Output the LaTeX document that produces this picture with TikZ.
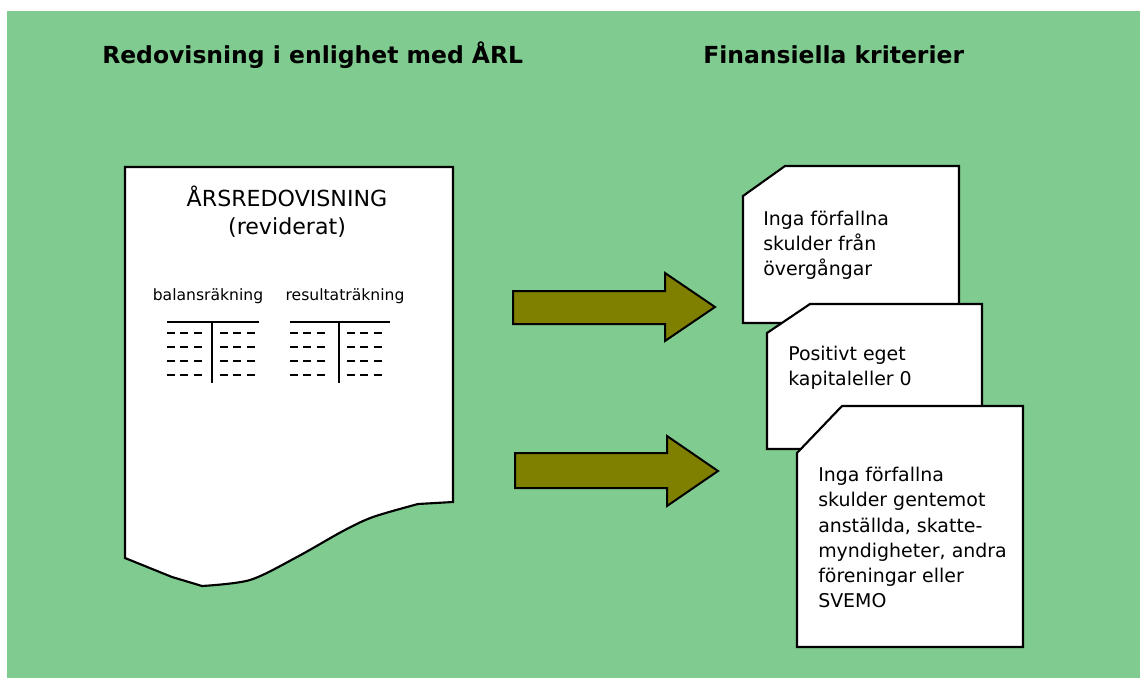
\documentclass[tikz,border=0pt]{standalone}
\usepackage{fontspec}
\setmainfont{DejaVu Sans}
\definecolor{bggreen}{RGB}{128,204,144}
\definecolor{arrowolive}{RGB}{128,128,0}
\tikzset{
	card/.style={draw, fill=white, line width=1.6pt},
	blockarrow/.style={draw, fill=arrowolive, line width=1.5pt},
	cardtext/.style={anchor=base west, align=left, inner sep=0pt, font=\fontsize{14.2}{18.9}\selectfont},
	heading/.style={anchor=base west, inner sep=0pt, font=\bfseries\fontsize{17.6}{21}\selectfont},
	ledger/.style={line width=1.5pt},
	ledgerdash/.style={dash pattern=on 6pt off 4.1pt, line width=1.5pt},
}

\begin{document}
\begin{tikzpicture}[x=0.75pt, y=-0.75pt]
	\useasboundingbox (0,0) rectangle (1140,678);
	\fill[bggreen] (7,11) rectangle (1140,678);

	%HEADINGS
	\node[heading] (arl) at (102,63) {Redovisning i enlighet med ÅRL};
	\node[heading] (krit) at (703,63) {Finansiella kriterier};

	%ANNUAL REPORT
	\draw[card] (125,167) -- (453,167) -- (453,502)
		-- plot[smooth] coordinates {(418,504) (373,517) (343,531) (297,557) (250,580) (202,586)}
		-- (172,577) -- (125,558) -- cycle;
	\node[anchor=base, align=center, inner sep=0pt, font=\fontsize{16.6}{20.7}\selectfont] (arsred) at (287,234.3) {ÅRSREDOVISNING\\(reviderat)};
	\node[anchor=base, inner sep=0pt, font=\fontsize{11.7}{14}\selectfont] (bal) at (208,300) {balansräkning};
	\node[anchor=base, inner sep=0pt, font=\fontsize{11.7}{14}\selectfont] (res) at (345,300) {resultaträkning};

	\draw[ledger] (167,322) -- (259,322);
	\draw[ledger] (212,322) -- (212,383);
	\draw[ledger] (290,322) -- (390,322);
	\draw[ledger] (339,322) -- (339,383);
	\foreach \y in {333,347,361,375} {
		\draw[ledgerdash] (167,\y) -- (202,\y);
		\draw[ledgerdash] (220,\y) -- (255,\y);
		\draw[ledgerdash] (290,\y) -- (325,\y);
		\draw[ledgerdash] (347,\y) -- (382,\y);
	}

	%ARROWS
	\draw[blockarrow] (513,291) -- (665,291) -- (665,273) -- (715,307) -- (665,341) -- (665,324) -- (513,324) -- cycle;
	\draw[blockarrow] (515,453) -- (667,453) -- (667,436) -- (718,471) -- (667,506) -- (667,488) -- (515,488) -- cycle;

	%CRITERIA
	\draw[card] (785,166) -- (959,166) -- (959,323) -- (743,323) -- (743,196) -- cycle;
	\node[cardtext] (krit1) at (763,275.4) {Inga förfallna\\skulder från\\övergångar};

	\draw[card] (810,304) -- (982,304) -- (982,449) -- (767,449) -- (767,333) -- cycle;
	\node[cardtext] (krit2) at (788,385.2) {Positivt eget\\kapitaleller 0};

	\draw[card] (842,406) -- (1023,406) -- (1023,647) -- (797,647) -- (797,453) -- cycle;
	\node[cardtext] (krit3) at (818,607.7) {Inga förfallna\\skulder gentemot\\anställda, skatte-\\myndigheter, andra\\föreningar eller\\SVEMO};
\end{tikzpicture}
\end{document}
